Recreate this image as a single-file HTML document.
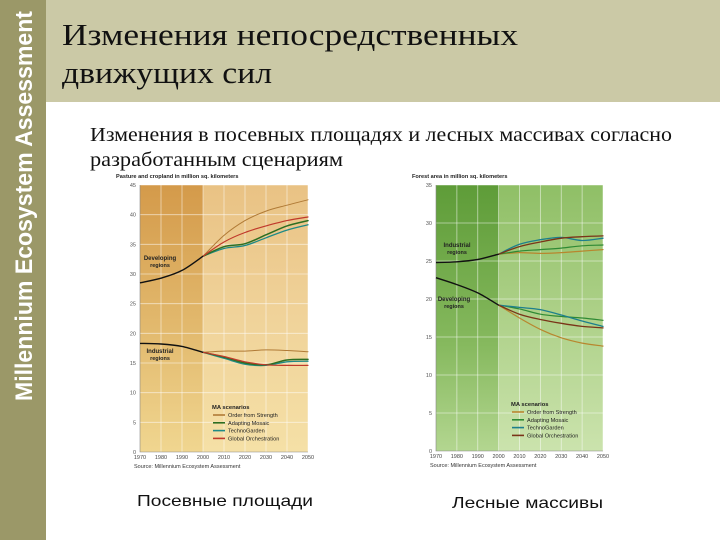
<!DOCTYPE html>
<html><head><meta charset="utf-8"><style>
html,body{margin:0;padding:0;background:#fff}
#slide{position:relative;width:720px;height:540px;overflow:hidden;background:#fff;font-family:"Liberation Serif","DejaVu Serif",serif}
</style></head><body>
<div id="slide">
<svg id="svg" width="720" height="540" viewBox="0 0 720 540" xmlns="http://www.w3.org/2000/svg">
<defs>
<linearGradient id="gOrangeL" x1="0" y1="0" x2="0" y2="1"><stop offset="0" stop-color="#d49a4a"/><stop offset="0.6" stop-color="#e4bd72"/><stop offset="1" stop-color="#f0d690"/></linearGradient>
<linearGradient id="gOrangeR" x1="0" y1="0" x2="0" y2="1"><stop offset="0" stop-color="#e9c284"/><stop offset="0.5" stop-color="#f0d39a"/><stop offset="1" stop-color="#f5e0a6"/></linearGradient>
<linearGradient id="gGreenL" x1="0" y1="0" x2="0" y2="1"><stop offset="0" stop-color="#5e9c38"/><stop offset="0.6" stop-color="#86b95e"/><stop offset="1" stop-color="#b3d690"/></linearGradient>
<linearGradient id="gGreenR" x1="0" y1="0" x2="0" y2="1"><stop offset="0" stop-color="#8fbf66"/><stop offset="0.5" stop-color="#aed189"/><stop offset="1" stop-color="#cbe3ad"/></linearGradient>
</defs>
<rect x="0" y="0" width="720" height="102" fill="#cbc9a6"/>
<rect x="0" y="0" width="46" height="540" fill="#9b9868"/>
<text transform="translate(32,401) rotate(-90)" font-family="'Liberation Sans',sans-serif" font-weight="bold" font-size="24" fill="#fff" textLength="390" lengthAdjust="spacingAndGlyphs">Millennium Ecosystem Assessment</text>
<text x="62" y="45" font-size="31" fill="#111" textLength="456" lengthAdjust="spacingAndGlyphs">Изменения непосредственных</text>
<text x="62" y="83" font-size="31" fill="#111" textLength="210" lengthAdjust="spacingAndGlyphs">движущих сил</text>
<text x="90" y="141" font-size="20" fill="#111" textLength="582" lengthAdjust="spacingAndGlyphs">Изменения в посевных площадях и лесных массивах согласно</text>
<text x="90" y="166" font-size="20" fill="#111" textLength="253" lengthAdjust="spacingAndGlyphs">разработанным сценариям</text>
<text x="137" y="506" font-family="'Liberation Sans',sans-serif" font-size="16" fill="#111" textLength="176" lengthAdjust="spacingAndGlyphs">Посевные площади</text>
<text x="452" y="508" font-family="'Liberation Sans',sans-serif" font-size="16" fill="#111" textLength="151" lengthAdjust="spacingAndGlyphs">Лесные массивы</text>
<g id="charts"></g>
</svg>
</div>
<script>
const years = [1970,1980,1990,2000,2010,2020,2030,2040,2050];
const scenarioNames = ["Order from Strength","Adapting Mosaic","TechnoGarden","Global Orchestration"];
const cropTicks = [0,5,10,15,20,25,30,35,40,45];
const forestTicks = [0,5,10,15,20,25,30,35];
const xTickLabels = ["1970","1980","1990","2000","2010","2020","2030","2040","2050"];
// Cropland (left chart)
const cropDevHist = [28.5,29.3,30.6,33.0];
const cropDevOS = [33.0,36.5,39.0,40.6,41.6,42.5];
const cropDevAM = [33.0,34.6,35.1,36.6,38.1,39.0];
const cropDevTG = [33.0,34.3,34.8,36.1,37.4,38.3];
const cropDevGO = [33.0,35.4,37.0,38.1,39.0,39.6];
const cropIndHist = [18.3,18.2,17.8,16.8];
const cropIndOS = [16.8,17.0,17.0,17.2,17.1,16.9];
const cropIndAM = [16.8,16.0,15.0,14.7,15.5,15.6];
const cropIndTG = [16.8,15.8,14.8,14.6,15.2,15.3];
const cropIndGO = [16.8,16.1,15.2,14.7,14.6,14.6];
// Forest (right chart)
const forIndHist = [24.8,24.9,25.2,25.9];
const forIndOS = [25.9,26.1,26.0,26.1,26.3,26.5];
const forIndAM = [25.9,26.3,26.5,26.7,27.0,27.1];
const forIndTG = [25.9,27.2,27.8,28.1,27.7,28.0];
const forIndGO = [25.9,26.9,27.5,28.0,28.2,28.3];
const forDevHist = [22.8,21.9,20.8,19.2];
const forDevOS = [19.2,17.5,16.0,14.9,14.2,13.8];
const forDevAM = [19.2,18.7,18.0,17.7,17.5,17.2];
const forDevTG = [19.2,18.9,18.6,17.9,17.1,16.4];
const forDevGO = [19.2,18.0,17.3,16.8,16.4,16.2];

const NS = "http://www.w3.org/2000/svg";
const root = document.getElementById('charts');
function mk(tag, attrs, parent){const e=document.createElementNS(NS,tag);for(const k in attrs)e.setAttribute(k,attrs[k]);(parent||root).appendChild(e);return e;}
function txt(s, attrs, parent){const e=mk('text',attrs,parent);e.textContent=s;return e;}

function smoothPath(pts){
  let d = "M"+pts[0][0].toFixed(1)+","+pts[0][1].toFixed(1);
  for(let i=0;i<pts.length-1;i++){
    const p0=pts[Math.max(0,i-1)],p1=pts[i],p2=pts[i+1],p3=pts[Math.min(pts.length-1,i+2)];
    const c1=[p1[0]+(p2[0]-p0[0])/6,p1[1]+(p2[1]-p0[1])/6];
    const c2=[p2[0]-(p3[0]-p1[0])/6,p2[1]-(p3[1]-p1[1])/6];
    d+=" C"+c1.map(v=>v.toFixed(1)).join(",")+" "+c2.map(v=>v.toFixed(1)).join(",")+" "+p2[0].toFixed(1)+","+p2[1].toFixed(1);
  }
  return d;
}

function chart(cfg){
  const g = mk('g',{});
  
  
  const x = yr => cfg.x0 + (yr-1970)/80*(cfg.x1-cfg.x0);
  const y = v => cfg.y0 - v/cfg.max*(cfg.y0-cfg.y1);
  const bgR = mk('rect',{x:cfg.x0,y:cfg.y1,width:cfg.x1-cfg.x0,height:cfg.y0-cfg.y1,fill:cfg.bgR},g);
  
  
  const bgL = mk('rect',{x:cfg.x0,y:cfg.y1,width:x(2000)-cfg.x0,height:cfg.y0-cfg.y1,fill:cfg.bgL},g);
  
  
  years.forEach((yr,i)=>{
    if(i>0){const l=mk('line',{x1:x(yr),x2:x(yr),y1:cfg.y1,y2:cfg.y0,stroke:'#fff','stroke-opacity':0.6,'stroke-width':0.8},g);
      
      }
    const t=txt(xTickLabels[i],{x:x(yr),y:cfg.y0+7,'font-size':5.5,'text-anchor':'middle',fill:'#444','font-family':"'Liberation Sans',sans-serif"},g);
    
    
  });
  cfg.ticks.forEach(v=>{
    if(v>0){const l=mk('line',{x1:cfg.x0,x2:cfg.x1,y1:y(v),y2:y(v),stroke:'#fff','stroke-opacity':0.6,'stroke-width':0.8},g);
      
      }
    const t=txt(String(v),{x:cfg.x0-4,y:y(v)+2,'font-size':5.5,'text-anchor':'end',fill:'#555','font-family':"'Liberation Sans',sans-serif"},g);
    
    
  });
  const ax=mk('path',{d:`M${cfg.x0},${cfg.y1} V${cfg.y0} H${cfg.x1}`,fill:'none',stroke:'#888','stroke-width':0.6},g);
  
  
  const at=txt(cfg.title,{x:cfg.x0-24,y:cfg.y1-7,'font-size':5.6,'font-weight':'bold',fill:'#222','font-family':"'Liberation Sans',sans-serif"},g);
  
  
  const src=txt("Source: Millennium Ecosystem Assessment",{x:cfg.x0-6,y:cfg.y0+16,'font-size':5.5,fill:'#333','font-family':"'Liberation Sans',sans-serif"},g);
  
  
  const fut = years.slice(3);
  cfg.series.forEach(s=>{
    const pts=s.vals.map((v,i)=>[x(fut[i]),y(v)]);
    const p=mk('path',{d:smoothPath(pts),fill:'none',stroke:s.color,'stroke-width':s.w,'stroke-linecap':'round'},g);
    
    
  });
  cfg.hist.forEach(h=>{
    const pts=h.vals.map((v,i)=>[x(years[i]),y(v)]);
    const p=mk('path',{d:smoothPath(pts),fill:'none',stroke:'#111','stroke-width':1.4},g);
    
    
  });
  cfg.labels.forEach(l=>{
    l.lines.forEach((s,i)=>{
      const t=txt(s,{x:l.x,y:l.y+i*7,'font-size':i==0?6:5.5,'font-weight':'bold','text-anchor':'middle',fill:'#222','font-family':"'Liberation Sans',sans-serif"},g);
      
      
    });
  });
  const lg=mk('g',{},g);
  
  
  const lt=txt("MA scenarios",{x:cfg.lx,y:cfg.ly,'font-size':5.8,'font-weight':'bold',fill:'#222','font-family':"'Liberation Sans',sans-serif"},lg);
  
  
  scenarioNames.forEach((n,i)=>{
    const yy=cfg.ly+8+i*7.8;
    const l=mk('line',{x1:cfg.lx+1,x2:cfg.lx+13,y1:yy-2,y2:yy-2,stroke:cfg.colors[i],'stroke-width':1.6},lg);
    
    
    const t=txt(n,{x:cfg.lx+16,y:yy,'font-size':5.6,fill:'#222','font-family':"'Liberation Sans',sans-serif"},lg);
    
    
  });
}
const cropColors=['#b07a36','#2d6e22','#1f8a86','#c0392b'];
chart({name:'cropland-chart',x0:140,x1:308,y0:452,y1:185,max:45,ticks:cropTicks,bgL:'url(#gOrangeL)',bgR:'url(#gOrangeR)',
  title:'Pasture and cropland in million sq. kilometers',colors:cropColors,lx:212,ly:409,
  series:[
    {id:'dev-os',vals:cropDevOS,color:cropColors[0],w:1},{id:'dev-tg',vals:cropDevTG,color:cropColors[2],w:1.3},
    {id:'dev-am',vals:cropDevAM,color:cropColors[1],w:1.5},{id:'dev-go',vals:cropDevGO,color:cropColors[3],w:1.2},
    {id:'ind-os',vals:cropIndOS,color:cropColors[0],w:1},{id:'ind-tg',vals:cropIndTG,color:cropColors[2],w:1.3},
    {id:'ind-am',vals:cropIndAM,color:cropColors[1],w:1.5},{id:'ind-go',vals:cropIndGO,color:cropColors[3],w:1.2}],
  hist:[{id:'dev-hist',vals:cropDevHist},{id:'ind-hist',vals:cropIndHist}],
  labels:[{x:160,y:260,lines:['Developing','regions']},{x:160,y:353,lines:['Industrial','regions']}]});
const forColors=['#b8862e','#2f8a34','#1d7f8c','#7a3418'];
chart({name:'forest-chart',x0:436,x1:603,y0:451,y1:185,max:35,ticks:forestTicks,bgL:'url(#gGreenL)',bgR:'url(#gGreenR)',
  title:'Forest area in million sq. kilometers',colors:forColors,lx:511,ly:406,
  series:[
    {id:'ind-os',vals:forIndOS,color:forColors[0],w:1.2},{id:'ind-am',vals:forIndAM,color:forColors[1],w:1.2},
    {id:'ind-tg',vals:forIndTG,color:forColors[2],w:1.3},{id:'ind-go',vals:forIndGO,color:forColors[3],w:1.3},
    {id:'dev-os',vals:forDevOS,color:forColors[0],w:1.2},{id:'dev-am',vals:forDevAM,color:forColors[1],w:1.2},
    {id:'dev-tg',vals:forDevTG,color:forColors[2],w:1.3},{id:'dev-go',vals:forDevGO,color:forColors[3],w:1.3}],
  hist:[{id:'ind-hist',vals:forIndHist},{id:'dev-hist',vals:forDevHist}],
  labels:[{x:457,y:247,lines:['Industrial','regions']},{x:454,y:301,lines:['Developing','regions']}]});
</script>
</body></html>
